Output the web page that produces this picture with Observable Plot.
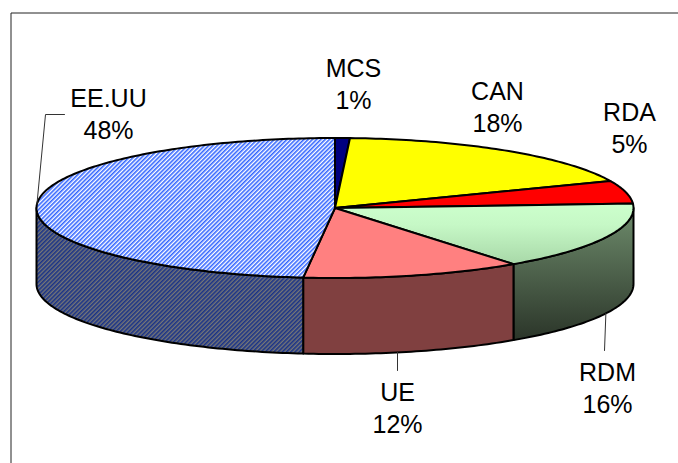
<!DOCTYPE html>
<html><head><meta charset="utf-8">
<script src="https://cdn.jsdelivr.net/npm/d3@7"></script>
<script src="https://cdn.jsdelivr.net/npm/@observablehq/plot@0.6"></script>
<style>
html,body{margin:0;padding:0;background:#fff;overflow:hidden;}
</style></head>
<body><div id="chart"></div>
<script>
// ---- data ----
const categories = ["MCS", "CAN", "RDA", "RDM", "UE", "EE.UU"];
const values = [0.8, 17.9, 5.3, 15.8, 11.9, 48.3];
const percentLabels = ["1%", "18%", "5%", "16%", "12%", "48%"];

// ---- styles ----
const topFill = ["#000080", "#FFFF00", "#FF0000", "url(#gTopGreen)", "#FF8080", "url(#pTopBlue)"];
const sideFill = ["#000040", "#808000", "#800000", "url(#gSideGreen)", "#804040", "url(#pSideBlue)"];

// ---- layout ----
const W = 678, H = 463;
const cx = 334.5, cy = 207.5, rx = 298.5, ry = 70, depth = 76;
const labelPos = {MCS: [353, 82], CAN: [497, 105], RDA: [629, 126], RDM: [607, 386], UE: [397, 406], "EE.UU": [108, 112]};

const topPt = a => [cx + rx * Math.sin(a), cy - ry * Math.cos(a)];
const botPt = a => [cx + rx * Math.sin(a), cy - ry * Math.cos(a) + depth];
const arcPts = (a0, a1, f) => {
  const n = Math.max(2, Math.ceil(Math.abs(a1 - a0) / (Math.PI / 180)));
  return d3.range(n + 1).map(i => f(a0 + (a1 - a0) * i / n));
};

const arcs = d3.pie().sort(null).startAngle(0).endAngle(2 * Math.PI)(values);

const marks = [];
// sides (front half only)
arcs.forEach((d, i) => {
  const s = Math.max(d.startAngle, Math.PI / 2), e = Math.min(d.endAngle, 3 * Math.PI / 2);
  if (s >= e) return;
  const pts = [...arcPts(s, e, topPt), ...arcPts(e, s, botPt)];
  pts.push(pts[0]);
  marks.push(Plot.line(pts, {x: p => p[0], y: p => p[1], fill: sideFill[i], stroke: "black", strokeWidth: 2, strokeLinejoin: "round"}));
});
// tops
arcs.forEach((d, i) => {
  const pts = [[cx, cy], ...arcPts(d.startAngle, d.endAngle, topPt), [cx, cy]];
  marks.push(Plot.line(pts, {x: p => p[0], y: p => p[1], fill: topFill[i], stroke: "black", strokeWidth: 2, strokeLinejoin: "round"}));
});

// leader lines
const mid = i => (arcs[i].startAngle + arcs[i].endAngle) / 2;
const iE = categories.indexOf("EE.UU"), iU = categories.indexOf("UE"), iR = categories.indexOf("RDM");
const [ex, ey] = labelPos["EE.UU"], [ux, uy] = labelPos.UE, [rX, rY] = labelPos.RDM;
const leaders = [
  {id: "EE.UU", pts: [topPt(mid(iE)), [ex - 63, ey + 2], [ex - 44, ey + 2]]},
  {id: "UE", pts: [botPt(Math.PI - Math.asin((ux - cx) / rx)), [ux, uy - 36]]},
  {id: "RDM", pts: [botPt(mid(iR)), [rX - 3, rY - 36]]}
];
leaders.forEach(l => marks.push(Plot.line(l.pts, {x: p => p[0], y: p => p[1], stroke: "#333", strokeWidth: 1})));

// labels
const labelRows = categories.map((c, i) => ({x: labelPos[c][0], y: labelPos[c][1], text: c + "\n" + percentLabels[i]}));
marks.push(Plot.text(labelRows, {x: "x", y: "y", text: "text", fontSize: 25, lineHeight: 1.28, textAnchor: "middle", lineAnchor: "middle", fill: "black", fontFamily: "Liberation Sans, Arial, sans-serif"}));

// chart area border
marks.push(Plot.line([[10.5, H], [10.5, 12.5], [W, 12.5]], {x: p => p[0], y: p => p[1], stroke: "#222", strokeWidth: 1}));

const svg = Plot.plot({
  width: W, height: H, margin: 0,
  x: {domain: [0, W], range: [0, W], axis: null},
  y: {domain: [0, H], range: [0, H], axis: null},
  style: {background: "white"},
  marks
});

const defs = d3.select(svg).insert("defs", ":first-child");
const pt = defs.append("pattern").attr("id", "pTopBlue").attr("patternUnits", "userSpaceOnUse")
  .attr("width", 3).attr("height", 3).attr("patternTransform", "rotate(45)");
pt.append("rect").attr("width", 3).attr("height", 3).attr("fill", "#ffffff");
pt.append("rect").attr("width", 1.6).attr("height", 3).attr("fill", "#3366ff");
const ps = defs.append("pattern").attr("id", "pSideBlue").attr("patternUnits", "userSpaceOnUse")
  .attr("width", 3).attr("height", 3).attr("patternTransform", "rotate(45)");
ps.append("rect").attr("width", 3).attr("height", 3).attr("fill", "#767676");
ps.append("rect").attr("width", 1.6).attr("height", 3).attr("fill", "#1a3388");
const g1 = defs.append("linearGradient").attr("id", "gTopGreen").attr("x1", 0).attr("y1", 0).attr("x2", 0).attr("y2", 1);
g1.append("stop").attr("offset", 0).attr("stop-color", "#CCFFCC");
g1.append("stop").attr("offset", 0.35).attr("stop-color", "#C6F8C6");
g1.append("stop").attr("offset", 1).attr("stop-color", "#A8D8A8");
const g2 = defs.append("linearGradient").attr("id", "gSideGreen").attr("x1", 0).attr("y1", 0).attr("x2", 0).attr("y2", 1);
g2.append("stop").attr("offset", 0).attr("stop-color", "#6E8C6C");
g2.append("stop").attr("offset", 1).attr("stop-color", "#2B3529");

document.getElementById("chart").appendChild(svg);
</script>
</body></html>
